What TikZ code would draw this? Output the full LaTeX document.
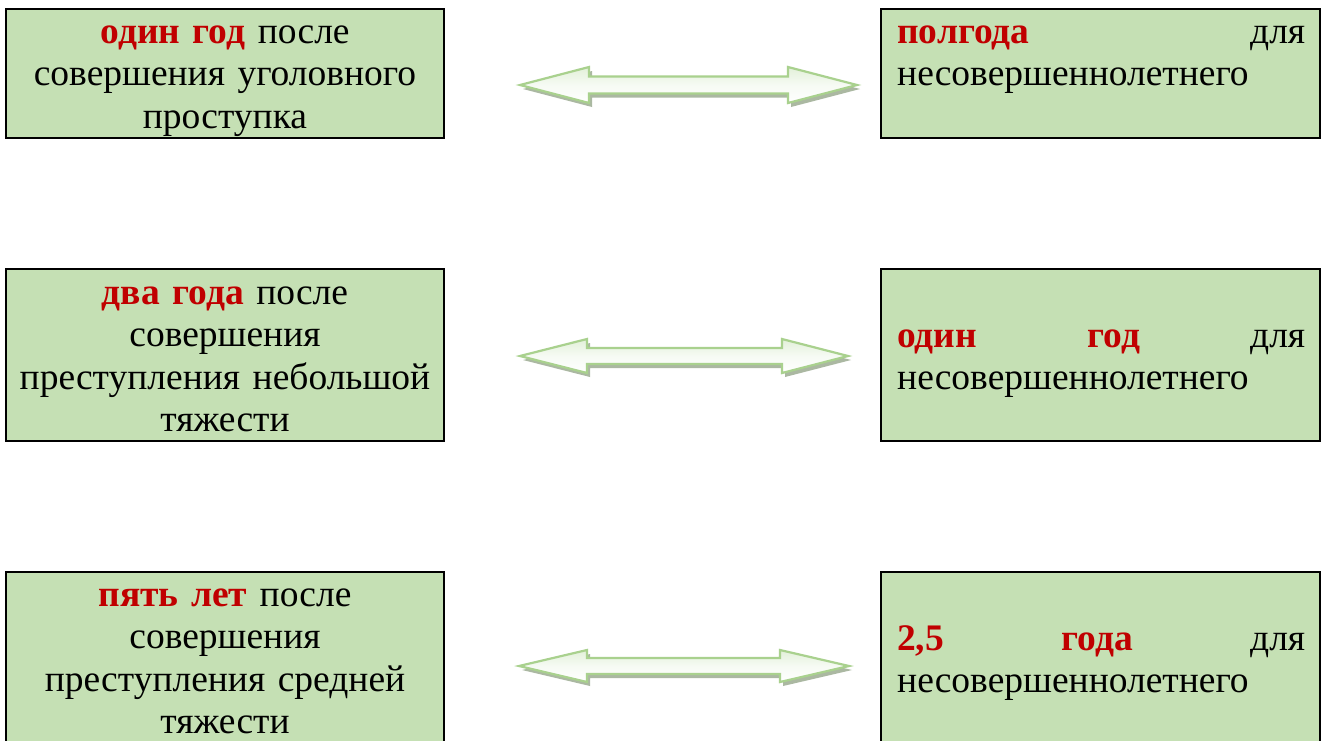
\documentclass[tikz,border=0pt]{standalone}
\usepackage{fontspec}
\setmainfont{Liberation Serif}
\definecolor{boxfill}{HTML}{C5E0B4}
\definecolor{redtxt}{HTML}{C00000}
\definecolor{arrline}{HTML}{A9D18E}
\definecolor{arrtop}{HTML}{E2F0D9}
\definecolor{arrshadow}{HTML}{8FA184}
\newcommand\hl[1]{\textbf{\textcolor{redtxt}{#1}}}
% tipL, baseL, baseR, tipR, cy, headhalf, shafthalf
\newcommand\mydblarrow[7]{%
  \fill[arrshadow,opacity=0.75,shift={(3pt,-4pt)}]
    (#1,#5) -- (#2,#5-#6) -- (#2,#5-#7) -- (#3,#5-#7) -- (#3,#5-#6) -- (#4,#5)
    -- (#3,#5+#6) -- (#3,#5+#7) -- (#2,#5+#7) -- (#2,#5+#6) -- cycle;
  \draw[arrline,line width=2.2pt,line join=miter,top color=arrtop,bottom color=white,middle color=white!70!arrtop]
    (#1,#5) -- (#2,#5-#6) -- (#2,#5-#7) -- (#3,#5-#7) -- (#3,#5-#6) -- (#4,#5)
    -- (#3,#5+#6) -- (#3,#5+#7) -- (#2,#5+#7) -- (#2,#5+#6) -- cycle;}
\begin{document}
\begin{tikzpicture}[x=1pt,y=-1pt,
  box/.style={draw=black,line width=2.3pt,fill=boxfill},
  ltxt/.style={anchor=base,inner sep=0pt,text width=420pt,align=center,
     font=\fontsize{37.5}{42.5}\selectfont},
  rtxt/.style={anchor=base west,inner sep=0pt,text width=408pt,align=left,
     font=\fontsize{37.5}{42.5}\selectfont}]
\useasboundingbox (0,0) rectangle (1322,740);
\clip (0,0) rectangle (1322,740);
\fill[white] (0,0) rectangle (1322,740);
% boxes
\draw[box] (6,9) rectangle (444,138) node[pos=0.5] (b1l) {};
\draw[box] (881,9) rectangle (1320,138) node[pos=0.5] (b1r) {};
\draw[box] (6,269) rectangle (444,441) node[pos=0.5] (b2l) {};
\draw[box] (881,269) rectangle (1320,441) node[pos=0.5] (b2r) {};
\draw[box] (6,572) rectangle (444,760) node[pos=0.5] (b3l) {};
\draw[box] (881,572) rectangle (1320,760) node[pos=0.5] (b3r) {};
% texts
\node[ltxt] (t1l) at (225,43) {\hl{один год} после\\совершения уголовного\\проступка};
\node[rtxt] (t1r) at (897,43) {\hl{полгода}\hfill для\\несовершеннолетнего};
\node[ltxt] (t2l) at (225,304) {\hl{два года} после\\совершения\\преступления небольшой\\тяжести};
\node[rtxt] (t2r) at (897,347) {\hl{один}\hfill\hl{год}\hfill для\\несовершеннолетнего};
\node[ltxt] (t3l) at (225,606) {\hl{пять лет} после\\совершения\\преступления средней\\тяжести};
\node[rtxt] (t3r) at (897,650) {\hl{2,5}\hfill\hl{года}\hfill для\\несовершеннолетнего};
% arrows
\mydblarrow{520}{589}{788}{857}{85}{18}{8.5}
\mydblarrow{520}{587}{782}{848}{356}{17}{8}
\mydblarrow{519}{587}{780}{849}{666}{16}{8}
\end{tikzpicture}
\end{document}
